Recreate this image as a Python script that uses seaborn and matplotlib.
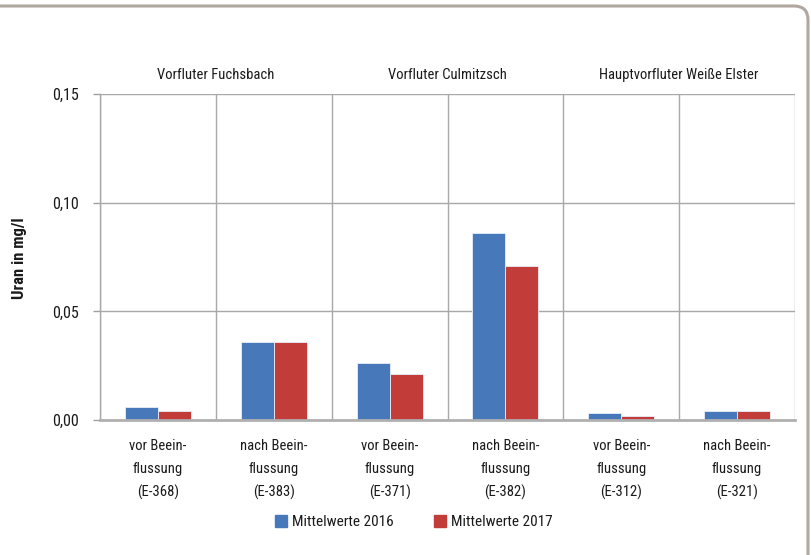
import matplotlib
matplotlib.use("Agg")
import matplotlib.pyplot as plt
import seaborn as sns
import pandas as pd
from matplotlib.lines import Line2D
from matplotlib.path import Path
from matplotlib.patches import PathPatch
from matplotlib.transforms import IdentityTransform
from matplotlib import font_manager

categories = ["vor Beein-\nflussung\n(E-368)", "nach Beein-\nflussung\n(E-383)",
              "vor Beein-\nflussung\n(E-371)", "nach Beein-\nflussung\n(E-382)",
              "vor Beein-\nflussung\n(E-312)", "nach Beein-\nflussung\n(E-321)"]
series_names = ["Mittelwerte 2016", "Mittelwerte 2017"]
values_2016 = [0.006, 0.036, 0.026, 0.086, 0.003, 0.004]
values_2017 = [0.004, 0.036, 0.021, 0.071, 0.002, 0.004]
group_labels = ["Vorfluter Fuchsbach", "Vorfluter Culmitzsch", "Hauptvorfluter Weiße Elster"]
yticks = [0.0, 0.05, 0.10, 0.15]
ytick_labels = ["0,00", "0,05", "0,10", "0,15"]

sns.set_style("white")

# pick a condensed font if one is installed
cond = None
stretch = "normal"
names = {f.name: f for f in font_manager.fontManager.ttflist}
for pref in ["Liberation Sans Narrow", "Roboto Condensed", "DejaVu Sans Condensed",
             "Open Sans Condensed", "Noto Sans Condensed"]:
    if pref in names:
        cond = pref
        break
if cond is None:
    for f in font_manager.fontManager.ttflist:
        if f.stretch in ("condensed", "semi-condensed", "extra-condensed", 300, 400) and \
                f.name in ("DejaVu Sans", "Noto Sans", "Roboto", "Open Sans"):
            cond = f.name
            stretch = "condensed"
            break
if cond is None:
    cond = "Liberation Sans"
plt.rcParams['font.family'] = [cond, 'DejaVu Sans']
plt.rcParams['font.stretch'] = stretch
scale = 1.0 if ("Narrow" in cond or "Condensed" in cond or stretch == "condensed") else 0.88

txt = "#1a1a1a"
df = pd.DataFrame({
    "cat": categories * 2,
    "series": [series_names[0]] * 6 + [series_names[1]] * 6,
    "val": values_2016 + values_2017,
})

W, H = 811, 555
fig = plt.figure(figsize=(W / 100, H / 100), dpi=100)
ax = fig.add_axes([100 / W, 1 - 420 / H, 695 / W, 326 / H])

palette = {series_names[0]: "#4779BA", series_names[1]: "#C23D39"}
sns.barplot(data=df, x="cat", y="val", hue="series", order=categories,
            hue_order=series_names, palette=palette, width=0.57, ax=ax,
            edgecolor="#e8eef8", linewidth=0.6, saturation=1, legend=False)

ax.set_xlim(-0.5, 5.5)
ax.set_ylim(0, 0.15)
ax.set_yticks(yticks)
ax.set_yticklabels(ytick_labels, fontsize=11.5 * scale, color=txt)
ax.set_xticks(range(6))
ax.set_xticklabels(categories, fontsize=10.5 * scale, linespacing=1.75, color=txt)
ax.set_xticks([i - 0.5 for i in range(7)], minor=True)
ax.tick_params(axis="x", which="major", length=0, pad=14)
ax.tick_params(axis="x", which="minor", length=6, color="#a0a0a0", width=1, direction="out")
ax.tick_params(axis="y", length=5, color="#a0a0a0", width=1, direction="out", pad=10, left=True)
ax.set_xlabel("")
ax.set_ylabel("")
fig.text(20 / W, 1 - 258 / H, "Uran in mg/l", rotation=90, ha="center", va="center",
         fontsize=12 * scale, fontweight="bold", color=txt)

ax.grid(True, axis="y", color="#a8a8a8", linewidth=1)
ax.grid(True, axis="x", which="minor", color="#a8a8a8", linewidth=1)
ax.grid(False, axis="x", which="major")
ax.set_axisbelow(True)
for s in ["top", "right"]:
    ax.spines[s].set_visible(False)
ax.spines["left"].set_color("#a8a8a8")
ax.spines["left"].set_linewidth(1)
ax.spines["bottom"].set_color("#b0b0b0")
ax.spines["bottom"].set_linewidth(2)

for i, g in enumerate(group_labels):
    ax.text(2 * i + 0.5, 1.058, g, transform=ax.get_xaxis_transform(),
            ha="center", va="center", fontsize=10.5 * scale, color=txt)

handles = [Line2D([], [], marker="s", linestyle="", markersize=8,
                  markerfacecolor=palette[n], markeredgecolor=palette[n]) for n in series_names]
fig.legend(handles, series_names, loc="center", bbox_to_anchor=(414 / W, 1 - 522 / H),
           ncol=2, frameon=False, fontsize=11 * scale, handletextpad=0.35, columnspacing=2.6,
           handlelength=0.8, labelcolor=txt)

# outer frame: top line with rounded top-right corner (pixel coords, origin bottom-left)
ytop = H - 6
xr = 808
r = 14
verts = [(-10, ytop), (xr - r, ytop), (xr, ytop), (xr, ytop - r), (xr, -10)]
codes = [Path.MOVETO, Path.LINETO, Path.CURVE3, Path.CURVE3, Path.LINETO]
frame = PathPatch(Path(verts, codes), transform=IdentityTransform(), facecolor="none",
                  edgecolor="#b0a79f", linewidth=2.2)
fig.add_artist(frame)

fig.savefig("out.png", dpi=100)
